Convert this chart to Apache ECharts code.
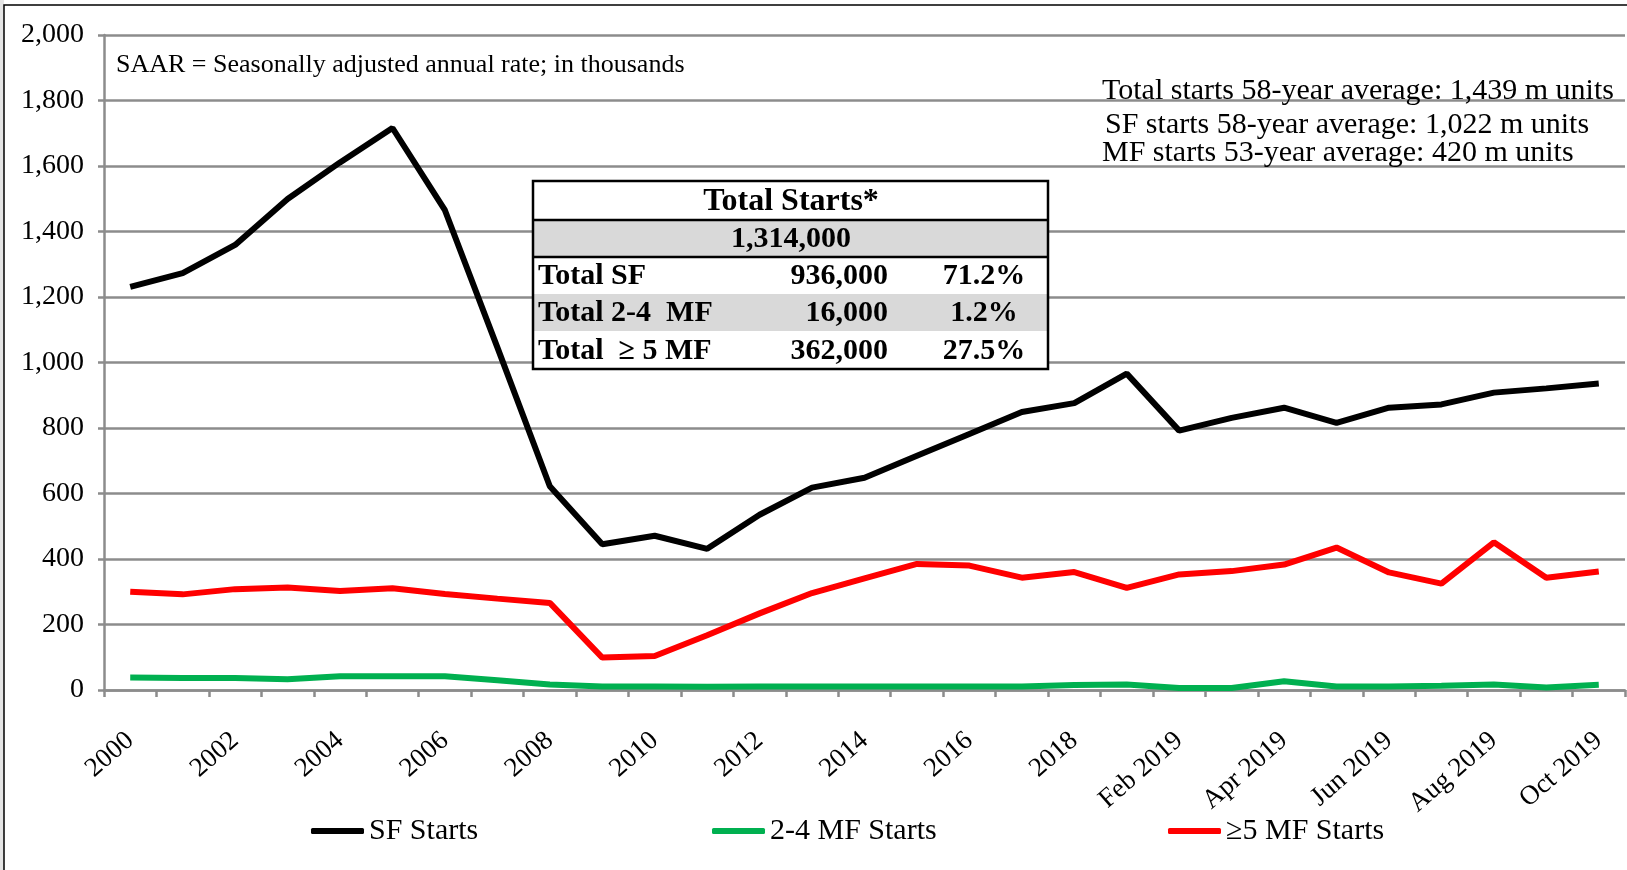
<!DOCTYPE html>
<html>
<head>
<meta charset="utf-8">
<title>Housing starts</title>
<script src="https://cdn.jsdelivr.net/npm/echarts@6.0.0/dist/echarts.min.js"></script>
<style>
  html, body { margin: 0; padding: 0; background: #fff; }
  #chart { width: 1627px; height: 870px; }
</style>
</head>
<body>
<div id="chart"></div>
<script>
// categories: annual 2000-2018, then monthly 2019 (SAAR, thousands)
const categories = ['2000', '2001', '2002', '2003', '2004', '2005', '2006', '2007', '2008', '2009',
  '2010', '2011', '2012', '2013', '2014', '2015', '2016', '2017', '2018',
  'Jan 2019', 'Feb 2019', 'Mar 2019', 'Apr 2019', 'May 2019', 'Jun 2019',
  'Jul 2019', 'Aug 2019', 'Sep 2019', 'Oct 2019']
const sfStarts = [1231, 1273, 1359, 1499, 1611, 1716, 1465, 1046, 622, 445,
  471, 431, 535, 618, 648, 715, 782, 849, 876,
  966, 792, 831, 862, 816, 862, 872, 908, 921, 936]
const mf24Starts = [38, 37, 37, 33, 42, 42, 42, 30, 17, 11,
  11, 10, 11, 11, 11, 11, 11, 11, 15,
  17, 6, 6, 27, 11, 11, 13, 17, 8, 16]
const mf5Starts = [300, 292, 308, 313, 302, 311, 293, 279, 266, 99,
  104, 167, 234, 296, 341, 385, 380, 343, 360,
  312, 353, 363, 383, 435, 359, 325, 451, 343, 362]
const seriesNames = ['SF Starts', '2-4 MF Starts', '≥5 MF Starts']
const yTicks = [0, 2000, 200] // min, max, interval

// text boxes
const saarNote = 'SAAR = Seasonally adjusted annual rate; in thousands'
const avgNotes = ['Total starts 58-year average: 1,439 m units',
  'SF starts 58-year average: 1,022 m units',
  'MF starts 53-year average: 420 m units']
const tableTitle = 'Total Starts*'
const tableTotal = '1,314,000'
const tableLabels = ['Total SF', 'Total 2-4  MF', 'Total  ≥ 5 MF']
const tableCounts = ['936,000', '16,000', '362,000']
const tableShares = ['71.2%', '1.2%', '27.5%']

const FONT = '"Liberation Serif", "Times New Roman", serif'
const GRIDCOLOR = '#8c8c8c'

const chart = echarts.init(document.getElementById('chart'))

// summary table (drawn on top of the grid)
const tbl = { left: 533, right: 1048, rows: [181, 220, 257, 294, 331, 369] }
const tableGraphics = []
tbl.rows.slice(0, -1).forEach((top, i) => {
  const gray = (i === 1 || i === 3)
  tableGraphics.push({
    type: 'rect', z: 50,
    shape: { x: tbl.left, y: top, width: tbl.right - tbl.left, height: tbl.rows[i + 1] - top },
    style: { fill: gray ? '#d9d9d9' : '#fff' },
  })
})
// outline + the two rules under the header rows
tableGraphics.push({
  type: 'rect', z: 52,
  shape: { x: tbl.left, y: tbl.rows[0], width: tbl.right - tbl.left, height: tbl.rows[5] - tbl.rows[0] },
  style: { fill: 'none', stroke: '#000', lineWidth: 2.5 },
})
;[1, 2].forEach(r => {
  tableGraphics.push({
    type: 'line', z: 52,
    shape: { x1: tbl.left, y1: tbl.rows[r], x2: tbl.right, y2: tbl.rows[r] },
    style: { stroke: '#000', lineWidth: 2.5 },
  })
})
const midY = r => (tbl.rows[r] + tbl.rows[r + 1]) / 2 + 1
const bold = 'bold 30px ' + FONT
tableGraphics.push({ type: 'text', z: 53, style: { text: tableTitle, x: 791, y: midY(0), font: 'bold 32px ' + FONT, fill: '#000', align: 'center', verticalAlign: 'middle' } })
tableGraphics.push({ type: 'text', z: 53, style: { text: tableTotal, x: 791, y: midY(1), font: bold, fill: '#000', align: 'center', verticalAlign: 'middle' } })
tableLabels.forEach((lab, i) => {
  const y = midY(i + 2)
  tableGraphics.push({ type: 'text', z: 53, style: { text: lab, x: 538, y, font: bold, fill: '#000', align: 'left', verticalAlign: 'middle' } })
  tableGraphics.push({ type: 'text', z: 53, style: { text: tableCounts[i], x: 888, y, font: bold, fill: '#000', align: 'right', verticalAlign: 'middle' } })
  tableGraphics.push({ type: 'text', z: 53, style: { text: tableShares[i], x: 984, y, font: bold, fill: '#000', align: 'center', verticalAlign: 'middle' } })
})

const noteGraphics = [
  { type: 'text', z: 40, style: { text: saarNote, x: 116, y: 65, font: '26px ' + FONT, fill: '#000', verticalAlign: 'middle' } },
  { type: 'text', z: 40, style: { text: avgNotes[0], x: 1102, y: 91, font: '30px ' + FONT, fill: '#000', verticalAlign: 'middle' } },
  { type: 'text', z: 40, style: { text: avgNotes[1], x: 1105, y: 125, font: '30px ' + FONT, fill: '#000', verticalAlign: 'middle' } },
  { type: 'text', z: 40, style: { text: avgNotes[2], x: 1102, y: 153, font: '30px ' + FONT, fill: '#000', verticalAlign: 'middle' } },
]

// slide frame at top/left
const frameGraphics = [
  { type: 'rect', z: -10, shape: { x: 0, y: 0, width: 4, height: 870 }, style: { fill: '#e4e4e4' } },
  { type: 'rect', z: 60, shape: { x: 4, y: 5, width: 1700, height: 1000 }, style: { fill: 'none', stroke: '#000', lineWidth: 1.5 } },
]

const legendCommon = {
  icon: 'roundRect',
  itemWidth: 53,
  itemHeight: 6,
  top: 816,
  padding: 0,
  textStyle: { fontFamily: FONT, fontSize: 30, color: '#000' },
}
const colors = ['#000000', '#00b050', '#ff0000']
const values = [sfStarts, mf24Starts, mf5Starts]

const option = {
  animation: false,
  backgroundColor: '#fff',
  grid: { left: 104, right: 2, top: 35, bottom: 180, containLabel: false, outerBoundsMode: 'none' },
  legend: [
    Object.assign({ data: [seriesNames[0]], left: 311 }, legendCommon),
    Object.assign({ data: [seriesNames[1]], left: 712 }, legendCommon),
    Object.assign({ data: [seriesNames[2]], left: 1168 }, legendCommon),
  ],
  xAxis: {
    type: 'category',
    data: categories,
    boundaryGap: true,
    axisLine: { lineStyle: { color: GRIDCOLOR, width: 2.5 } },
    axisTick: { show: true, interval: 0, length: 7, lineStyle: { color: GRIDCOLOR, width: 2.5 } },
    axisLabel: {
      interval: 1,
      rotate: 41,
      margin: 47,
      fontFamily: FONT,
      fontSize: 27,
      color: '#000',
    },
    splitLine: { show: false },
  },
  yAxis: {
    type: 'value',
    min: yTicks[0],
    max: yTicks[1],
    interval: yTicks[2],
    axisLine: { show: true, lineStyle: { color: GRIDCOLOR, width: 2.5 } },
    axisTick: { show: true, length: 6, lineStyle: { color: GRIDCOLOR, width: 2.5 } },
    axisLabel: {
      margin: 20,
      fontFamily: FONT,
      fontSize: 28,
      color: '#000',
      formatter: v => v.toLocaleString('en-US'),
    },
    splitLine: { show: true, lineStyle: { color: GRIDCOLOR, width: 2.5 } },
  },
  series: seriesNames.map((name, i) => ({
    name,
    type: 'line',
    data: values[i],
    symbol: 'none',
    z: 10 - i,
    itemStyle: { color: colors[i] },
    lineStyle: { color: colors[i], width: 6 },
  })),
  graphic: frameGraphics.concat(noteGraphics, tableGraphics),
}
chart.setOption(option)
</script>
</body>
</html>
